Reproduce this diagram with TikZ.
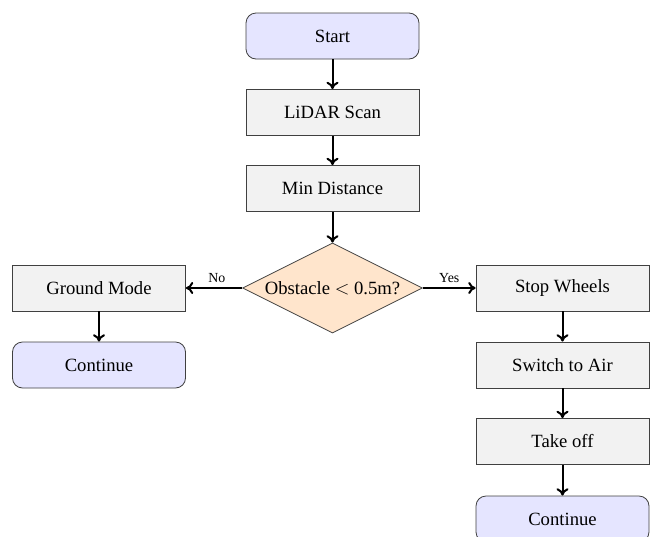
\documentclass[tikz,border=0pt]{standalone}
\usepackage{fontspec}
\setmainfont{Liberation Serif}
\usetikzlibrary{shapes.geometric,arrows.meta}
\begin{document}
\begin{tikzpicture}[x=0.75pt,y=-0.75pt,
  base/.style={draw=black!75, line width=0.6pt, minimum width=129.75pt, minimum height=34.5pt, inner sep=0pt, font=\fontsize{14}{16}\selectfont},
  term/.style={base, rounded corners=7.5pt, fill=blue!10},
  proc/.style={base, fill=black!5},
  dec/.style={draw=black!75, line width=0.6pt, diamond, aspect=2, fill=orange!20, minimum width=135pt, minimum height=67.5pt, inner sep=0pt, font=\fontsize{14}{16}\selectfont},
  arr/.style={-{To[length=5.5pt,width=9pt]}, line width=1.5pt},
  lab/.style={font=\fontsize{10.4}{12}\selectfont}]
\useasboundingbox (0,0) rectangle (657,536);
\clip (0,0) rectangle (657,536);
\node[term] (start) at (332.5,36) {Start};
\node[proc] (lidar) at (332.5,112.5) {LiDAR Scan};
\node[proc] (mind) at (332.5,188.5) {Min Distance};
\node[dec] (obs) at (332.5,288) {Obstacle $<$ 0.5m?};
\node[proc] (ground) at (99,288) {Ground Mode};
\node[term] (contl) at (99,365) {Continue};
\node[proc] (stop) at (562.5,288) {Stop Wheels};
\node[proc] (air) at (562.5,365) {Switch to Air};
\node[proc] (take) at (562.5,441.5) {Take off};
\node[term] (contr) at (562.5,519) {Continue};
\draw[arr] (start) -- (lidar);
\draw[arr] (lidar) -- (mind);
\draw[arr] (mind) -- (obs);
\draw[arr] (obs) -- node[lab, above, pos=0.45] {No} (ground);
\draw[arr] (obs) -- node[lab, above, pos=0.5] {Yes} (stop);
\draw[arr] (ground) -- (contl);
\draw[arr] (stop) -- (air);
\draw[arr] (air) -- (take);
\draw[arr] (take) -- (contr);
\end{tikzpicture}
\end{document}
